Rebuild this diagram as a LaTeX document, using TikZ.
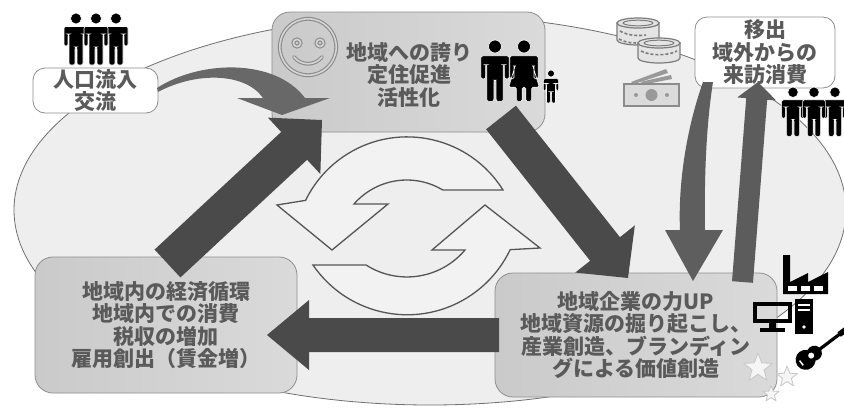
\documentclass[tikz,border=0pt]{standalone}
\usepackage{fontspec}
\setmainfont{Noto Sans CJK JP}
\usetikzlibrary{calc}

\definecolor{ellfill}{HTML}{EEEEEE}
\definecolor{ellline}{HTML}{707070}
\definecolor{boxline}{HTML}{8E8E8E}
\definecolor{boxA}{HTML}{CACACA}
\definecolor{boxB}{HTML}{DADADA}
\definecolor{txt}{HTML}{5A5A5A}
\definecolor{darkarrow}{HTML}{4A4A4A}
\definecolor{midarrow}{HTML}{5E5E5E}
\definecolor{curvearrow}{HTML}{686868}
\definecolor{cycline}{HTML}{555555}
\definecolor{cycfill}{HTML}{F2F2F2}
\definecolor{coinline}{HTML}{7C7C7C}
\definecolor{coinfill}{HTML}{E4E4E4}
\definecolor{smileline}{HTML}{8A8A8A}
\definecolor{smilefill}{HTML}{D6D6D6}

% straight block arrow: [style]{tail}{tip}{half shaft}{head length}{half head}
\newcommand\blockarrow[6][]{%
  \path ($(#3)!#5!(#2)$) coordinate (hb);
  \fill[#1] ($(#2)!#4!90:(#3)$) -- ($(hb)!#4!90:(#3)$) -- ($(hb)!#6!90:(#3)$)
    -- (#3) -- ($(hb)!#6!-90:(#3)$) -- ($(hb)!#4!-90:(#3)$) -- ($(#2)!#4!-90:(#3)$) -- cycle;
}

\tikzset{
  lbl/.style={font=\fontsize{21}{22.5}\selectfont\bfseries, text=txt, align=center, inner sep=0pt},
  box/.style={lbl, draw=boxline, line width=0.8pt},
  graybox/.style={box, rounded corners=18pt, left color=boxA, right color=boxB},
  whitebox/.style={box, rounded corners=12pt, fill=white},
  cyc/.style={fill=cycfill, draw=cycline, line width=1.3pt, line join=miter},
  mancolor/.style={fill=black, draw=white, line width=0.6pt},
  coin/.style={fill=coinfill, draw=coinline, line width=1.2pt},
  coindash/.style={draw=coinline, line width=1.6pt, dash pattern=on 3pt off 2pt},
  starstyle/.style={fill=white!96!black, draw=black!22, line width=0.8pt, line join=round},
  starpic/.pic={
    \path[starstyle] (-90:1) -- (-54:0.42) -- (-18:1) -- (18:0.42) -- (54:1) -- (90:0.42)
      -- (126:1) -- (162:0.42) -- (198:1) -- (234:0.42) -- cycle;
  },
  manicon/.pic={
    \path[mancolor] (0,5.5) circle[radius=5.5];
    \path[mancolor, rounded corners=2] (-12,33) -- (-12,13.5) -- (12,13.5) -- (12,33) -- (8,33) -- (8,21)
      -- (7,21) -- (7,52) -- (1,52) -- (1,34) -- (-1,34) -- (-1,52) -- (-7,52) -- (-7,21)
      -- (-8,21) -- (-8,33) -- cycle;
  },
  womanicon/.pic={
    \path[mancolor] (0,5.5) circle[radius=5.5];
    \path[mancolor, rounded corners=1.5] (-12,33) -- (-12,13.5) -- (12,13.5) -- (12,33) -- (8.5,33) -- (8.5,22)
      -- (7.5,22) -- (13,40) -- (6.5,40) -- (6.5,52) -- (1.5,52) -- (1.5,40) -- (-1.5,40) -- (-1.5,52)
      -- (-6.5,52) -- (-6.5,40) -- (-13,40) -- (-7.5,22) -- (-8.5,22) -- (-8.5,33) -- cycle;
  }
}

\begin{document}
\begin{tikzpicture}[x=1pt,y=-1pt]
\useasboundingbox (0,0) rectangle (844,408);
\fill[white] (0,0) rectangle (844,408);

% the region
\draw[fill=ellfill, draw=ellline, line width=0.8pt] (430,210) ellipse[x radius=416, y radius=195];

% circular arrows in the middle
\draw[cyc] (503,190) arc[start angle=-32, end angle=-154, radius=113] -- (277,205) -- (332,250)
  -- (388,204) -- (354,204) arc[start angle=-138.9, end angle=-59, radius=70] -- cycle;
\draw[cyc] (313,265) arc[start angle=145.7, end angle=25.4, radius=114] -- (540,248) -- (485,205)
  -- (432,250) -- (465,250) arc[start angle=40.2, end angle=122.6, radius=76] -- cycle;

% boxes
\node[graybox, minimum width=273pt, minimum height=120pt] (pride) at (408.5,72) {};
\node[lbl] (pridetext) at (409,75) {地域への誇り\\定住促進\\活性化};
\node[graybox, minimum width=262pt, minimum height=136pt] (economy) at (166,325)
  {地域内の経済循環\\地域内での消費\\税収の増加\\雇用創出（賃金増）};
\node[graybox, minimum width=282pt, minimum height=124pt] (industry) at (636,335)
  {地域企業の力UP\\地域資源の掘り起こし、\\産業創造、ブランディン\\グによる価値創造};
\node[whitebox, minimum width=140pt, minimum height=71pt] (visit) at (765,52.5)
  {移出\\域外からの\\来訪消費};
\node[whitebox, minimum width=125pt, minimum height=45pt] (inflow) at (95.5,90.5)
  {人口流入\\交流};

% smiley
\foreach \w/\c in {3.8pt/smileline, 1.6pt/smilefill}{
  \draw[line width=\w, draw=\c] (308,47) circle[radius=28.2];
  \draw[line width=\w, draw=\c] (297,43) circle[radius=3.6];
  \draw[line width=\w, draw=\c] (320,43) circle[radius=3.6];
  \draw[line width=\w, draw=\c, line cap=round] (294,57) .. controls (301,66) and (315,66) .. (322,57);
}

% people
\pic at (76,13) {manicon};
\pic at (116,13) {manicon};
\pic at (96,13) {manicon};
\pic[scale=1.18] at (495,40) {manicon};
\pic[scale=1.18] at (524,40) {womanicon};
\pic[scale=0.64] at (551,70) {manicon};
\pic[scale=0.95] at (793,87) {manicon};
\pic[scale=0.95] at (835,87) {manicon};
\pic[scale=0.95] at (814,87) {manicon};

% coins and bill
\path[coin] (617,23) -- (617,40) arc[start angle=180, end angle=0, x radius=21, y radius=5] -- (659,23) -- cycle;
\path[coin] (638,23) ellipse[x radius=21, y radius=5];
\draw[coinline, line width=1pt] (638,23) ellipse[x radius=15, y radius=2.8];
\draw[coindash] (620,31) .. controls (628,36) and (640,36) .. (646,35);
\path[coin] (638,43) -- (638,58) arc[start angle=180, end angle=0, x radius=21, y radius=5] -- (680,43) -- cycle;
\path[coin] (659,43) ellipse[x radius=21, y radius=5];
\draw[coinline, line width=1pt] (659,43) ellipse[x radius=15, y radius=2.8];
\draw[coindash] (641,51) .. controls (650,56) and (668,56) .. (677,51);
\draw[coindash] (619,39) .. controls (624,42) and (630,43) .. (636,43);
\fill[black!40] (631,82) -- (666,69) -- (668,73) -- (634,84) -- cycle;
\fill[black!40] (640,82) -- (671,75) -- (672,79) -- (646,84) -- cycle;
\draw[fill=black!14, draw=black!45, line width=2pt] (624,84) rectangle (679,106);
\fill[black!40] (651.5,95) circle[radius=6];
\fill[black!40] (636,95) circle[radius=2];
\fill[black!40] (667,95) circle[radius=2];

% factory
\fill (783,294) -- (783,255) -- (790,255) -- (790,282) -- (808,273) -- (808,282) -- (828,272) -- (828,294) -- cycle;
\fill[white] (788,286) rectangle (797,291);
\fill[white] (801,286) rectangle (810,291);
\fill[white] (814,286) rectangle (823,291);

% computer
\draw[line width=4.5pt] (755,304) rectangle (790,321);
\fill (769,322) rectangle (776,329);
\fill (760,328) rectangle (785,332);
\fill (795,299) rectangle (813,334);
\fill[white] (798,304) rectangle (810,306);
\fill[white] (798,309) rectangle (810,311);
\fill[white] (804,327) circle[radius=1.8];

% guitar
\begin{scope}[shift={(808,358)}, rotate=37]
  \fill (-3,0) circle[radius=10];
  \fill (8,0) circle[radius=7.5];
  \fill (12,-1.6) rectangle (40,1.6);
  \fill (39,-2.8) rectangle (47,2.8);
  \fill[white] (4,0) circle[radius=3];
  \fill[white] (-9,-3) rectangle (-7.5,3);
\end{scope}

% stars
\pic[scale=15] at (758,368) {starpic};
\pic[scale=11] at (787,377) {starpic};
\pic[scale=8.5] at (771,394) {starpic};

% curved arrow from the inflow box
\fill[curvearrow] (157,88) .. controls (200,60) and (275,58) .. (305,98) -- (330,98) -- (282,115)
  -- (237,98) -- (263,98) .. controls (245,72) and (195,72) .. (158,92) -- cycle;

% cycle of block arrows
\coordinate (a1s) at (167.5,263.5); \coordinate (a1t) at (322,120);
\blockarrow[darkarrow]{a1s}{a1t}{19pt}{38pt}{38.5pt}
\coordinate (a2s) at (501,117.5); \coordinate (a2t) at (628,278);
\blockarrow[darkarrow]{a2s}{a2t}{19pt}{37pt}{38pt}
\coordinate (a3s) at (499,335); \coordinate (a3t) at (267,335);
\blockarrow[darkarrow]{a3s}{a3t}{17pt}{42pt}{35pt}

% money flowing in, visitors going out
\fill[midarrow] (703,82) .. controls (686,130) and (678,185) .. (680,230) -- (665,230) -- (693,281)
  -- (723,230) -- (705,230) .. controls (704,170) and (707,120) .. (713,82) -- cycle;
\coordinate (a5s) at (742.5,282); \coordinate (a5t) at (758,82);
\blockarrow[darkarrow!90!white]{a5s}{a5t}{10.5pt}{17pt}{19.5pt}
\end{tikzpicture}
\end{document}
